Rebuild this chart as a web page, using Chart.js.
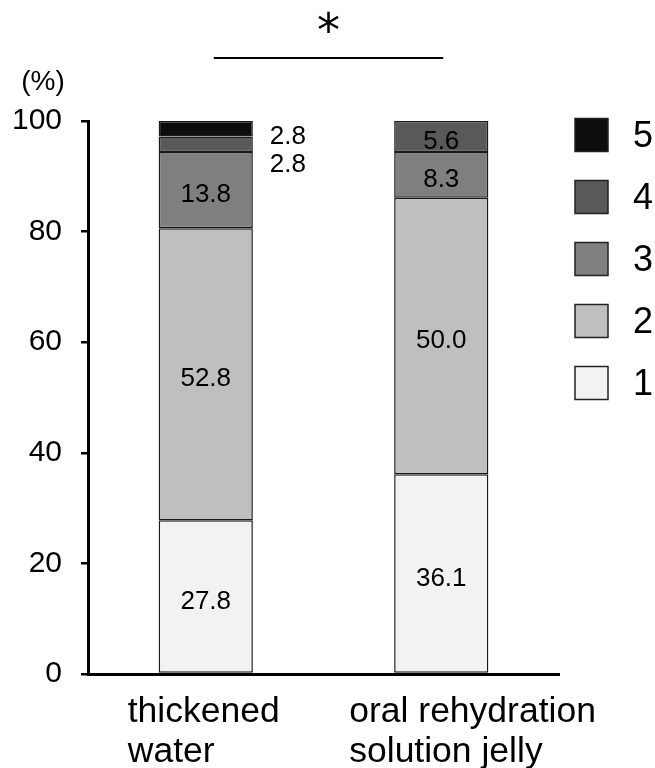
<!DOCTYPE html>
<html>
<head>
<meta charset="utf-8">
<script src="https://cdn.jsdelivr.net/npm/chart.js@4"></script>
<style>
  html, body { margin: 0; padding: 0; background: #fff; }
</style>
</head>
<body>
<canvas id="chart" width="655" height="768"></canvas>
<script>
const categories = [["thickened", "water"], ["oral rehydration", "solution jelly"]];
const scoreNames = ["1", "2", "3", "4", "5"];
const score1 = [27.8, 36.1];
const score2 = [52.8, 50.0];
const score3 = [13.8, 8.3];
const score4 = [2.8, 5.6];
const score5 = [2.8, 0];
const yTicks = [0, 20, 40, 60, 80, 100];
const fills = ["#f2f2f2", "#bfbfbf", "#7f7f7f", "#595959", "#0d0d0d"];

const FONT = "'Liberation Sans', Arial, sans-serif";
const labelShift = [-78, -92]; // left edge of category text relative to bar centre

const series = [score1, score2, score3, score4, score5];

// value labels, significance bar, legend, category text
const overlay = {
    id: "overlay",
    afterDraw(chart) {
        const ctx = chart.ctx;
        const area = chart.chartArea;
        const xs = chart.scales.x;
        const ys = chart.scales.y;
        ctx.save();
        ctx.fillStyle = "#000";

        // segment values
        ctx.font = "26px " + FONT;
        ctx.textBaseline = "middle";
        const outsideCount = [0, 0];
        for (let i = series.length - 1; i >= 0; i--) {
            const meta = chart.getDatasetMeta(i);
            meta.data.forEach((el, j) => {
                const v = series[i][j];
                if (!v) return;
                const txt = v.toFixed(1);
                if (v < 5) {
                    const top = ys.getPixelForValue(100);
                    ctx.textAlign = "left";
                    ctx.fillText(txt, el.x + el.width / 2 + 17, top + 16 + 28 * outsideCount[j]);
                    outsideCount[j]++;
                } else {
                    ctx.textAlign = "center";
                    ctx.fillText(txt, el.x, (el.y + el.base) / 2 + 5);
                }
            });
        }

        // unit
        ctx.font = "28px " + FONT;
        ctx.textAlign = "center";
        ctx.fillText("(%)", 43, 82);

        // significance
        const x0 = xs.getPixelForValue(0) + 8;
        const x1 = xs.getPixelForValue(1) + 2;
        ctx.strokeStyle = "#000";
        ctx.lineWidth = 2;
        ctx.beginPath();
        ctx.moveTo(x0, 58);
        ctx.lineTo(x1, 58);
        ctx.stroke();
        ctx.font = "46px 'DejaVu Sans', sans-serif";
        ctx.textBaseline = "alphabetic";
        ctx.fillText("*", (x0 + x1) / 2, 46);

        // legend
        ctx.font = "36px " + FONT;
        ctx.textAlign = "left";
        ctx.textBaseline = "middle";
        for (let i = series.length - 1; i >= 0; i--) {
            const k = series.length - 1 - i;
            const cy = area.top + 14 + 62 * k;
            const bx = area.right + 16;
            ctx.fillStyle = fills[i];
            ctx.fillRect(bx, cy - 16.5, 33, 33);
            ctx.strokeStyle = "#222";
            ctx.lineWidth = 1.5;
            ctx.strokeRect(bx, cy - 16.5, 33, 33);
            ctx.fillStyle = "#000";
            ctx.fillText(scoreNames[i], bx + 58, cy + 2);
        }

        // category names, left aligned block
        ctx.font = "35.5px " + FONT;
        ctx.textBaseline = "alphabetic";
        categories.forEach((lines, j) => {
            const cx = xs.getPixelForValue(j);
            lines.forEach((line, n) => {
                ctx.fillText(line, cx + labelShift[j], area.bottom + 48 + 40 * n);
            });
        });
        ctx.restore();
    }
};

new Chart(document.getElementById("chart"), {
    type: "bar",
    data: {
        labels: categories.map(c => c.join(" ")),
        datasets: series.map((d, i) => ({
            label: scoreNames[i],
            data: d,
            backgroundColor: fills[i],
            borderColor: "#1a1a1a",
            borderWidth: 1.5,
            borderSkipped: false,
            barPercentage: 0.4,
            categoryPercentage: 1
        }))
    },
    options: {
        responsive: false,
        animation: false,
        layout: { padding: { top: 121, right: 96, left: 0, bottom: 0 } },
        plugins: { legend: { display: false }, tooltip: { enabled: false } },
        scales: {
            x: {
                stacked: true,
                offset: true,
                grid: { display: false },
                border: { color: "#000", width: 3 },
                ticks: { display: false },
                afterFit(s) { s.height = 94; }
            },
            y: {
                stacked: true,
                min: 0,
                max: 100,
                afterBuildTicks(s) { s.ticks = yTicks.map(v => ({ value: v })); },
                border: { color: "#000", width: 3 },
                grid: { drawOnChartArea: false, drawTicks: true, tickLength: 7, color: "#000", lineWidth: 2.5 },
                ticks: { color: "#000", font: { family: FONT, size: 30 }, padding: 19 },
                afterFit(s) { s.width = 88; }
            }
        }
    },
    plugins: [overlay]
});
</script>
</body>
</html>
